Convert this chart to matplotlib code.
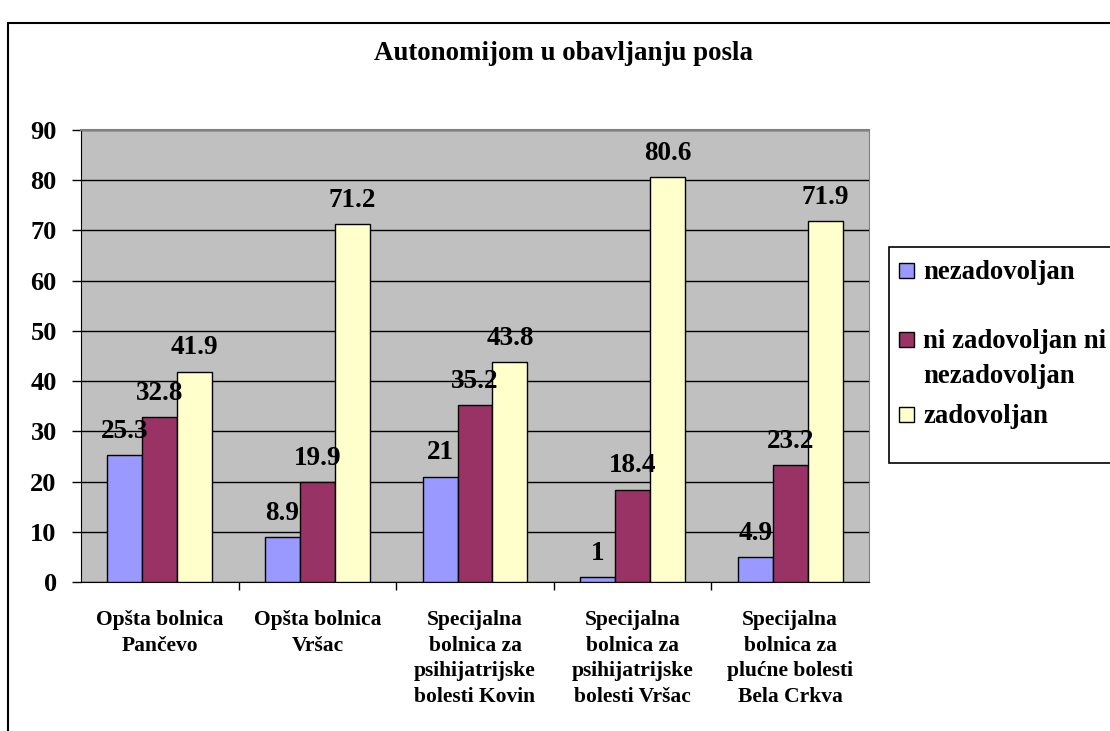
import numpy as np
import matplotlib.pyplot as plt
from matplotlib.patches import Rectangle

categories = ['Opšta bolnica\nPančevo', 'Opšta bolnica\nVršac',
              'Specijalna\nbolnica za\npsihijatrijske\nbolesti Kovin',
              'Specijalna\nbolnica za\npsihijatrijske\nbolesti Vršac',
              'Specijalna\nbolnica za\nplućne bolesti\nBela Crkva']
series_names = ['nezadovoljan', 'ni zadovoljan ni\nnezadovoljan', 'zadovoljan']
nezadovoljan = [25.3, 8.9, 21, 1, 4.9]
ni_ni = [32.8, 19.9, 35.2, 18.4, 23.2]
zadovoljan = [41.9, 71.2, 43.8, 80.6, 71.9]
colors = ['#9999FF', '#993366', '#FFFFCC']

plt.rcParams['font.family'] = ['Liberation Serif', 'DejaVu Serif']
plt.rcParams['font.weight'] = 'bold'

fig = plt.figure(figsize=(11.1, 7.31), dpi=100)
ax = fig.add_axes([81/1110, 1-582/731, (869-81)/1110, (582-130)/731])
ax.set_facecolor('#C0C0C0')

x = np.arange(len(categories))
w = 0.222
all_series = [nezadovoljan, ni_ni, zadovoljan]
for i, vals in enumerate(all_series):
  pos = x + (i-1)*w
  ax.bar(pos, vals, width=w, color=colors[i], edgecolor='black', linewidth=1, zorder=3)
  for px, v in zip(pos, vals):
    ax.annotate('%g' % v, (px, v), xytext=(0, 8), textcoords='offset points',
                ha='center', va='bottom', fontsize=19.5, fontweight='bold', zorder=4)

ax.set_xlim(-0.5, 4.5)
ax.set_ylim(0, 90)
ax.set_yticks(range(0, 91, 10))
ax.yaxis.grid(True, color='black', linewidth=1, zorder=0)
ax.tick_params(axis='y', labelsize=19, length=6.5, width=1, pad=11)
for lab in ax.get_yticklabels():
  lab.set_fontweight('bold')

ax.set_xticks(x)
ax.set_xticklabels(categories, fontsize=15.5, fontweight='bold', linespacing=1.39)
ax.tick_params(axis='x', length=0, pad=20)
ax.set_xticks(np.arange(0.5, 4.5, 1), minor=True)
ax.tick_params(axis='x', which='minor', length=6, width=1)

ax.spines['left'].set_color('black')
ax.spines['bottom'].set_color('black')
ax.spines['top'].set_color('#808080')
ax.spines['right'].set_color('#808080')
ax.spines['top'].set_linewidth(1.5)

fig.text(564/1110, 1-53/731, 'Autonomijom u obavljanju posla', ha='center', va='center',
         fontsize=19.4, fontweight='bold')

# outer chart border
fig.add_artist(Rectangle((8/1110, -0.1), 1.2, (731-23)/731+0.1, transform=fig.transFigure,
                         fill=False, edgecolor='black', linewidth=1.5))

# legend box
lx0, ly0, lx1, ly1 = 889, 247, 1125, 463
fig.add_artist(Rectangle((lx0/1110, 1-ly1/731), (lx1-lx0)/1110, (ly1-ly0)/731,
                         transform=fig.transFigure, facecolor='white', edgecolor='black', linewidth=1.2))
baselines = [279, 348, 423]
for name, c, yy in zip(series_names, colors, baselines):
  fig.add_artist(Rectangle((899/1110, 1-(yy-1)/731), 15/1110, 15/731, transform=fig.transFigure,
                           facecolor=c, edgecolor='black', linewidth=1))
  lines = name.split('\n')
  for k, line in enumerate(lines):
    fig.text(923/1110, 1-(yy+35*k)/731, line, ha='left', va='baseline', fontsize=19.3,
             fontweight='bold')

fig.savefig('out.png', dpi=100)
